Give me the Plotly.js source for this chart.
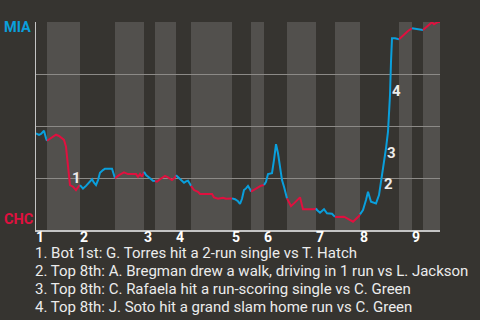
<!DOCTYPE html>
<html>
<head>
<meta charset="utf-8">
<script src="https://cdn.plot.ly/plotly-3.0.1.min.js"></script>
<style>html,body{margin:0;padding:0;background:#363430;}#chart{width:480px;height:320px;}</style>
</head>
<body>
<div id="chart"></div>
<script>
// Game progress (play position) and MIA win probability (%)
const progress = [0,3,5,7,8,10,11,20,23,28,30,32,34,37,40,43,44,47,50,53,56,58,60,62,64,67,69,76,79,83,88,92,100,102,104,106,108,110,114,117,119,121,124,129,132,136,139,140,144,148,150,152,154,155,158,162,164,176,178,182,187,190,196,199,202,204,206,208,210,212,214,215,221,225,228,230,232,236,238,240,242,244,246,248,250,251,255,258,262,264,267,278,280,281,284,288,291,296,299,304,308,312,317,323,324,327,330,332,335,340,343,345,347,349,350,352,353,354,355,356,359,363,368,372,376,380,387,392,396,398,402,404];
const winProb = [46.5,45.7,46.2,47.1,47.7,44.1,42.9,45.8,45.2,43.3,40.0,32.1,21.6,20.8,19.2,21.2,21.6,19.9,21.2,22.7,24.4,22.7,21.6,24.0,27.5,28.8,29.5,29.5,24.9,26.4,27.7,26.9,26.9,25.6,26.9,25.6,28.0,26.4,24.9,23.7,23.5,23.2,24.4,26.0,25.3,24.0,25.3,26.3,24.4,22.7,23.4,23.7,22.1,21.2,19.2,18.4,17.3,17.3,15.7,15.0,15.5,15.0,15.2,14.8,13.8,12.5,15.0,19.2,20.0,21.2,19.6,18.4,20.0,21.3,21.6,23.2,26.9,27.3,33.7,41.3,36.9,30.4,24.0,20.8,16.8,15.2,11.5,12.8,14.8,15.7,10.0,10.0,10.4,9.6,8.3,10.0,8.0,7.8,6.3,6.4,6.4,5.4,4.0,6.7,7.5,9.6,14.4,18.4,13.6,12.8,16.8,23.2,28.0,34.5,39.3,47.3,55.3,64.9,80.9,92.2,92.2,91.7,94.1,95.7,97.0,96.6,96.2,98.1,99.9,98.9,100,100];
// Half-inning boundaries (top, bottom alternating)
const halfBounds = [0,11,44,79,108,119,140,155,196,215,228,251,280,299,324,363,376,387,404];
const inningLabels = ['1','2','3','4','5','6','7','8','9'];
// Key plays: marker label, position, win prob
const keyNums = ['1','2','3','4'];
const keyX = [40,352,355,360];
const keyY = [24.8,22.1,36.8,66.8];
const keyTexts = [
  '1. Bot 1st: G. Torres hit a 2-run single vs T. Hatch',
  '2. Top 8th: A. Bregman drew a walk, driving in 1 run vs L. Jackson',
  '3. Top 8th: C. Rafaela hit a run-scoring single vs C. Green',
  '4. Top 8th: J. Soto hit a grand slam home run vs C. Green'
];
const teams = ['MIA','CHC'];

const BLUE = '#0a9fdc', RED = '#e0103f', BG = '#363430', BAND = '#52504d';
const TXT = '#ececec';

const traces = [];
const shapes = [];
for (let i = 0; i < halfBounds.length - 1; i++) {
  const a = halfBounds[i], b = halfBounds[i+1];
  const xs = [], ys = [];
  for (let k = 0; k < progress.length; k++) {
    if (progress[k] >= a && progress[k] <= b) { xs.push(progress[k]); ys.push(winProb[k]); }
  }
  traces.push({x: xs, y: ys, type: 'scatter', mode: 'lines',
    line: {color: i % 2 === 0 ? BLUE : RED, width: 2}, hoverinfo: 'skip', showlegend: false});
  if (i % 2 === 1) {
    shapes.push({type: 'rect', xref: 'x', yref: 'paper', x0: a, x1: b, y0: 0, y1: 1,
      fillcolor: BAND, line: {width: 0}, layer: 'below'});
  }
}
const inningStarts = halfBounds.filter((v, i) => i % 2 === 0 && i < halfBounds.length - 1);

const annotations = [];
keyNums.forEach((n, i) => annotations.push({x: keyX[i], y: keyY[i], xref: 'x', yref: 'y', text: n,
  showarrow: false, font: {family: 'Roboto', size: 15, color: TXT, weight: 'bold'}}));
inningStarts.forEach((s, i) => annotations.push({x: s, y: 0, xref: 'x', yref: 'y', text: inningLabels[i],
  showarrow: false, xanchor: 'left', yanchor: 'top', xshift: -1, yshift: 2, borderpad: 0,
  font: {family: 'Roboto', size: 14, color: '#ffffff', weight: 'bold'}}));
keyTexts.forEach((t, i) => annotations.push({x: 0, y: -0.1106 - i * 0.0866, xref: 'paper', yref: 'paper',
  text: t, showarrow: false, xanchor: 'left', yanchor: 'middle', xshift: -2, borderpad: 0,
  font: {family: 'Roboto', size: 15, color: TXT}}));
annotations.push({x: -0.0842, y: 97.4, xref: 'paper', yref: 'y', text: teams[0], showarrow: false,
  xanchor: 'left', yanchor: 'middle', font: {family: 'Roboto', size: 14.5, color: BLUE, weight: 'bold'}});
annotations.push({x: -0.0842, y: 5.0, xref: 'paper', yref: 'y', text: teams[1], showarrow: false,
  xanchor: 'left', yanchor: 'middle', font: {family: 'Roboto', size: 14.5, color: RED, weight: 'bold'}});

const layout = {
  width: 480, height: 320,
  margin: {l: 36, r: 40, t: 22, b: 90, pad: 0},
  paper_bgcolor: BG, plot_bgcolor: BG,
  showlegend: false,
  hovermode: false,
  xaxis: {range: [0, 404], showgrid: false, zeroline: false, showticklabels: false,
    showline: true, linecolor: '#c4c4c4', linewidth: 1.5, fixedrange: true},
  yaxis: {range: [0, 100], tickvals: [0, 25, 50, 75, 100], showticklabels: false,
    showgrid: true, gridcolor: '#8c8a87', gridwidth: 1, zeroline: false,
    showline: true, linecolor: '#c4c4c4', linewidth: 1.5, fixedrange: true},
  shapes: shapes,
  annotations: annotations
};
Plotly.newPlot('chart', traces, layout, {displayModeBar: false, staticPlot: true});
</script>
</body>
</html>
